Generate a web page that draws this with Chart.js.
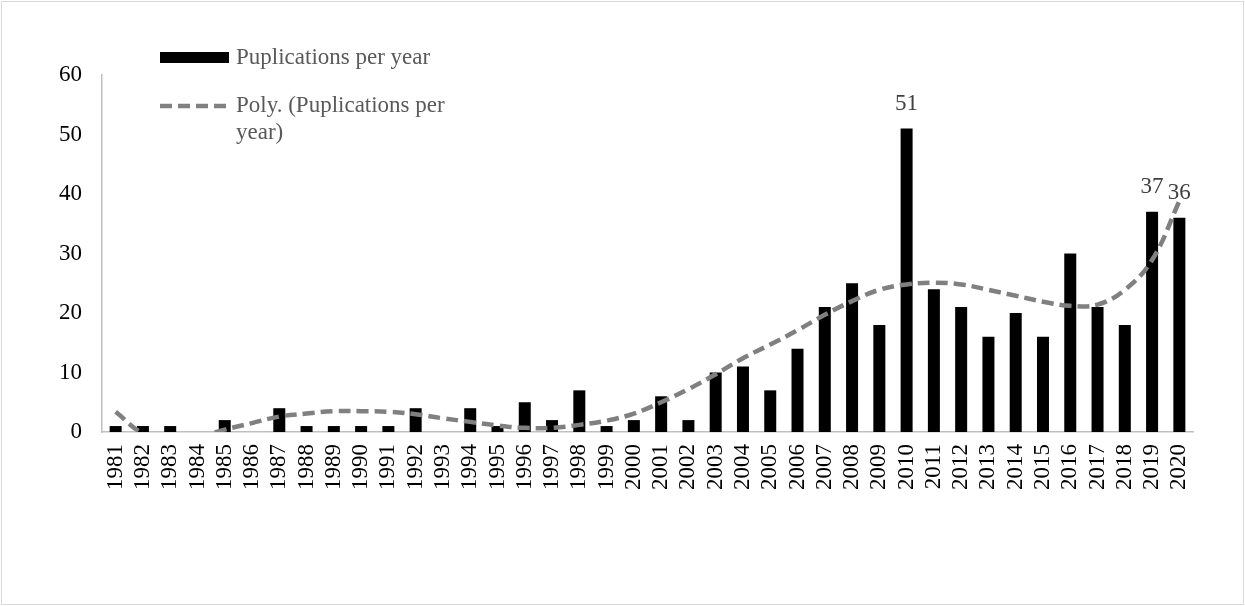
<!DOCTYPE html>
<html>
<head>
<meta charset="utf-8">
<script src="https://cdn.jsdelivr.net/npm/chart.js@4/dist/chart.umd.min.js"></script>
<style>
  html, body { margin: 0; padding: 0; background: #fff; }
  #wrap { position: relative; width: 1245px; height: 606px; }
  canvas { display: block; }
</style>
</head>
<body>
<div id="wrap"><canvas id="c" width="1245" height="606"></canvas></div>
<script>
const years = ['1981','1982','1983','1984','1985','1986','1987','1988','1989','1990',
  '1991','1992','1993','1994','1995','1996','1997','1998','1999','2000',
  '2001','2002','2003','2004','2005','2006','2007','2008','2009','2010',
  '2011','2012','2013','2014','2015','2016','2017','2018','2019','2020'];
const publications = [1,1,1,0,2,0,4,1,1,1,
  1,4,0,4,1,5,2,7,1,2,
  6,2,10,11,7,14,21,25,18,51,
  24,21,16,20,16,30,21,18,37,36];
// trend line values (clipped at 0 on the chart)
const polyTrend = [3.4,-0.2,-1.0,-0.8,0.4,1.5,2.6,3.1,3.5,3.5,
  3.4,3.0,2.3,1.7,1.1,0.7,0.7,1.2,1.9,3.1,
  5.0,7.2,9.7,12.4,14.7,17.1,19.7,22.0,23.9,24.8,
  25.1,24.8,23.9,22.9,21.9,21.2,21.4,23.9,28.9,38.8];
const labelledYears = ['2010','2019','2020'];
const yTicks = [0,10,20,30,40,50,60];
const seriesNames = ['Puplications per year', 'Poly. (Puplications per year)'];

const FONT = "'Liberation Serif', 'Times New Roman', serif";
const FS = 23;

const framePlugin = {
  id: 'frame',
  beforeDraw(chart) {
    const ctx = chart.ctx;
    ctx.save();
    ctx.fillStyle = '#fff';
    ctx.fillRect(0, 0, chart.width, chart.height);
    ctx.strokeStyle = '#d9d9d9';
    ctx.lineWidth = 1;
    ctx.strokeRect(1.5, 1.5, chart.width - 3, chart.height - 3);
    ctx.restore();
  }
};

const labelPlugin = {
  id: 'valueLabels',
  afterDatasetsDraw(chart) {
    const ctx = chart.ctx;
    const meta = chart.getDatasetMeta(0);
    ctx.save();
    ctx.font = FS + 'px ' + FONT;
    ctx.fillStyle = '#404040';
    ctx.textAlign = 'center';
    ctx.textBaseline = 'middle';
    years.forEach((y, i) => {
      if (labelledYears.includes(y)) {
        const el = meta.data[i];
        ctx.fillText(String(publications[i]), el.x, el.y - 25);
      }
    });
    ctx.restore();
  }
};

const legendPlugin = {
  id: 'customLegend',
  afterDraw(chart) {
    const ctx = chart.ctx;
    ctx.save();
    ctx.fillStyle = '#000';
    ctx.fillRect(160, 52, 69, 11);
    ctx.font = FS + 'px ' + FONT;
    ctx.fillStyle = '#595959';
    ctx.textAlign = 'left';
    ctx.textBaseline = 'middle';
    ctx.fillText(seriesNames[0], 236, 58);
    ctx.strokeStyle = '#808080';
    ctx.lineWidth = 4.5;
    ctx.setLineDash([12, 6]);
    ctx.beginPath();
    ctx.moveTo(160, 106);
    ctx.lineTo(230, 106);
    ctx.stroke();
    ctx.setLineDash([]);
    ctx.fillText('Poly. (Puplications per', 236, 106);
    ctx.fillText('year)', 236, 133);
    ctx.restore();
  }
};

new Chart(document.getElementById('c'), {
  data: {
    labels: years,
    datasets: [
      {
        type: 'bar',
        label: seriesNames[0],
        data: publications,
        backgroundColor: '#000',
        borderWidth: 0,
        barPercentage: 0.44,
        categoryPercentage: 1.0,
        order: 2
      },
      {
        type: 'line',
        label: seriesNames[1],
        data: polyTrend,
        borderColor: '#808080',
        borderWidth: 4.5,
        borderDash: [12, 6],
        borderCapStyle: 'butt',
        pointRadius: 0,
        tension: 0.4,
        fill: false,
        order: 1
      }
    ]
  },
  options: {
    responsive: false,
    animation: false,
    devicePixelRatio: 1,
    layout: { padding: { top: 75, right: 52, bottom: 0, left: 0 } },
    plugins: {
      legend: { display: false },
      tooltip: { enabled: false }
    },
    scales: {
      x: {
        grid: { display: false, drawTicks: false },
        border: { display: true, color: '#bfbfbf', width: 1.5 },
        ticks: {
          autoSkip: false,
          minRotation: 90,
          maxRotation: 90,
          padding: 12,
          color: '#000',
          font: { family: FONT, size: FS }
        },
        afterFit(scale) { scale.height = 174; }
      },
      y: {
        min: 0,
        max: 60,
        grid: { display: false, drawTicks: false },
        border: { display: true, color: '#bfbfbf', width: 1.5 },
        afterBuildTicks(scale) { scale.ticks = yTicks.map(v => ({ value: v })); },
        ticks: {
          padding: 20,
          color: '#000',
          font: { family: FONT, size: FS }
        },
        afterFit(scale) { scale.width = 102; }
      }
    }
  },
  plugins: [framePlugin, labelPlugin, legendPlugin]
});
</script>
</body>
</html>
